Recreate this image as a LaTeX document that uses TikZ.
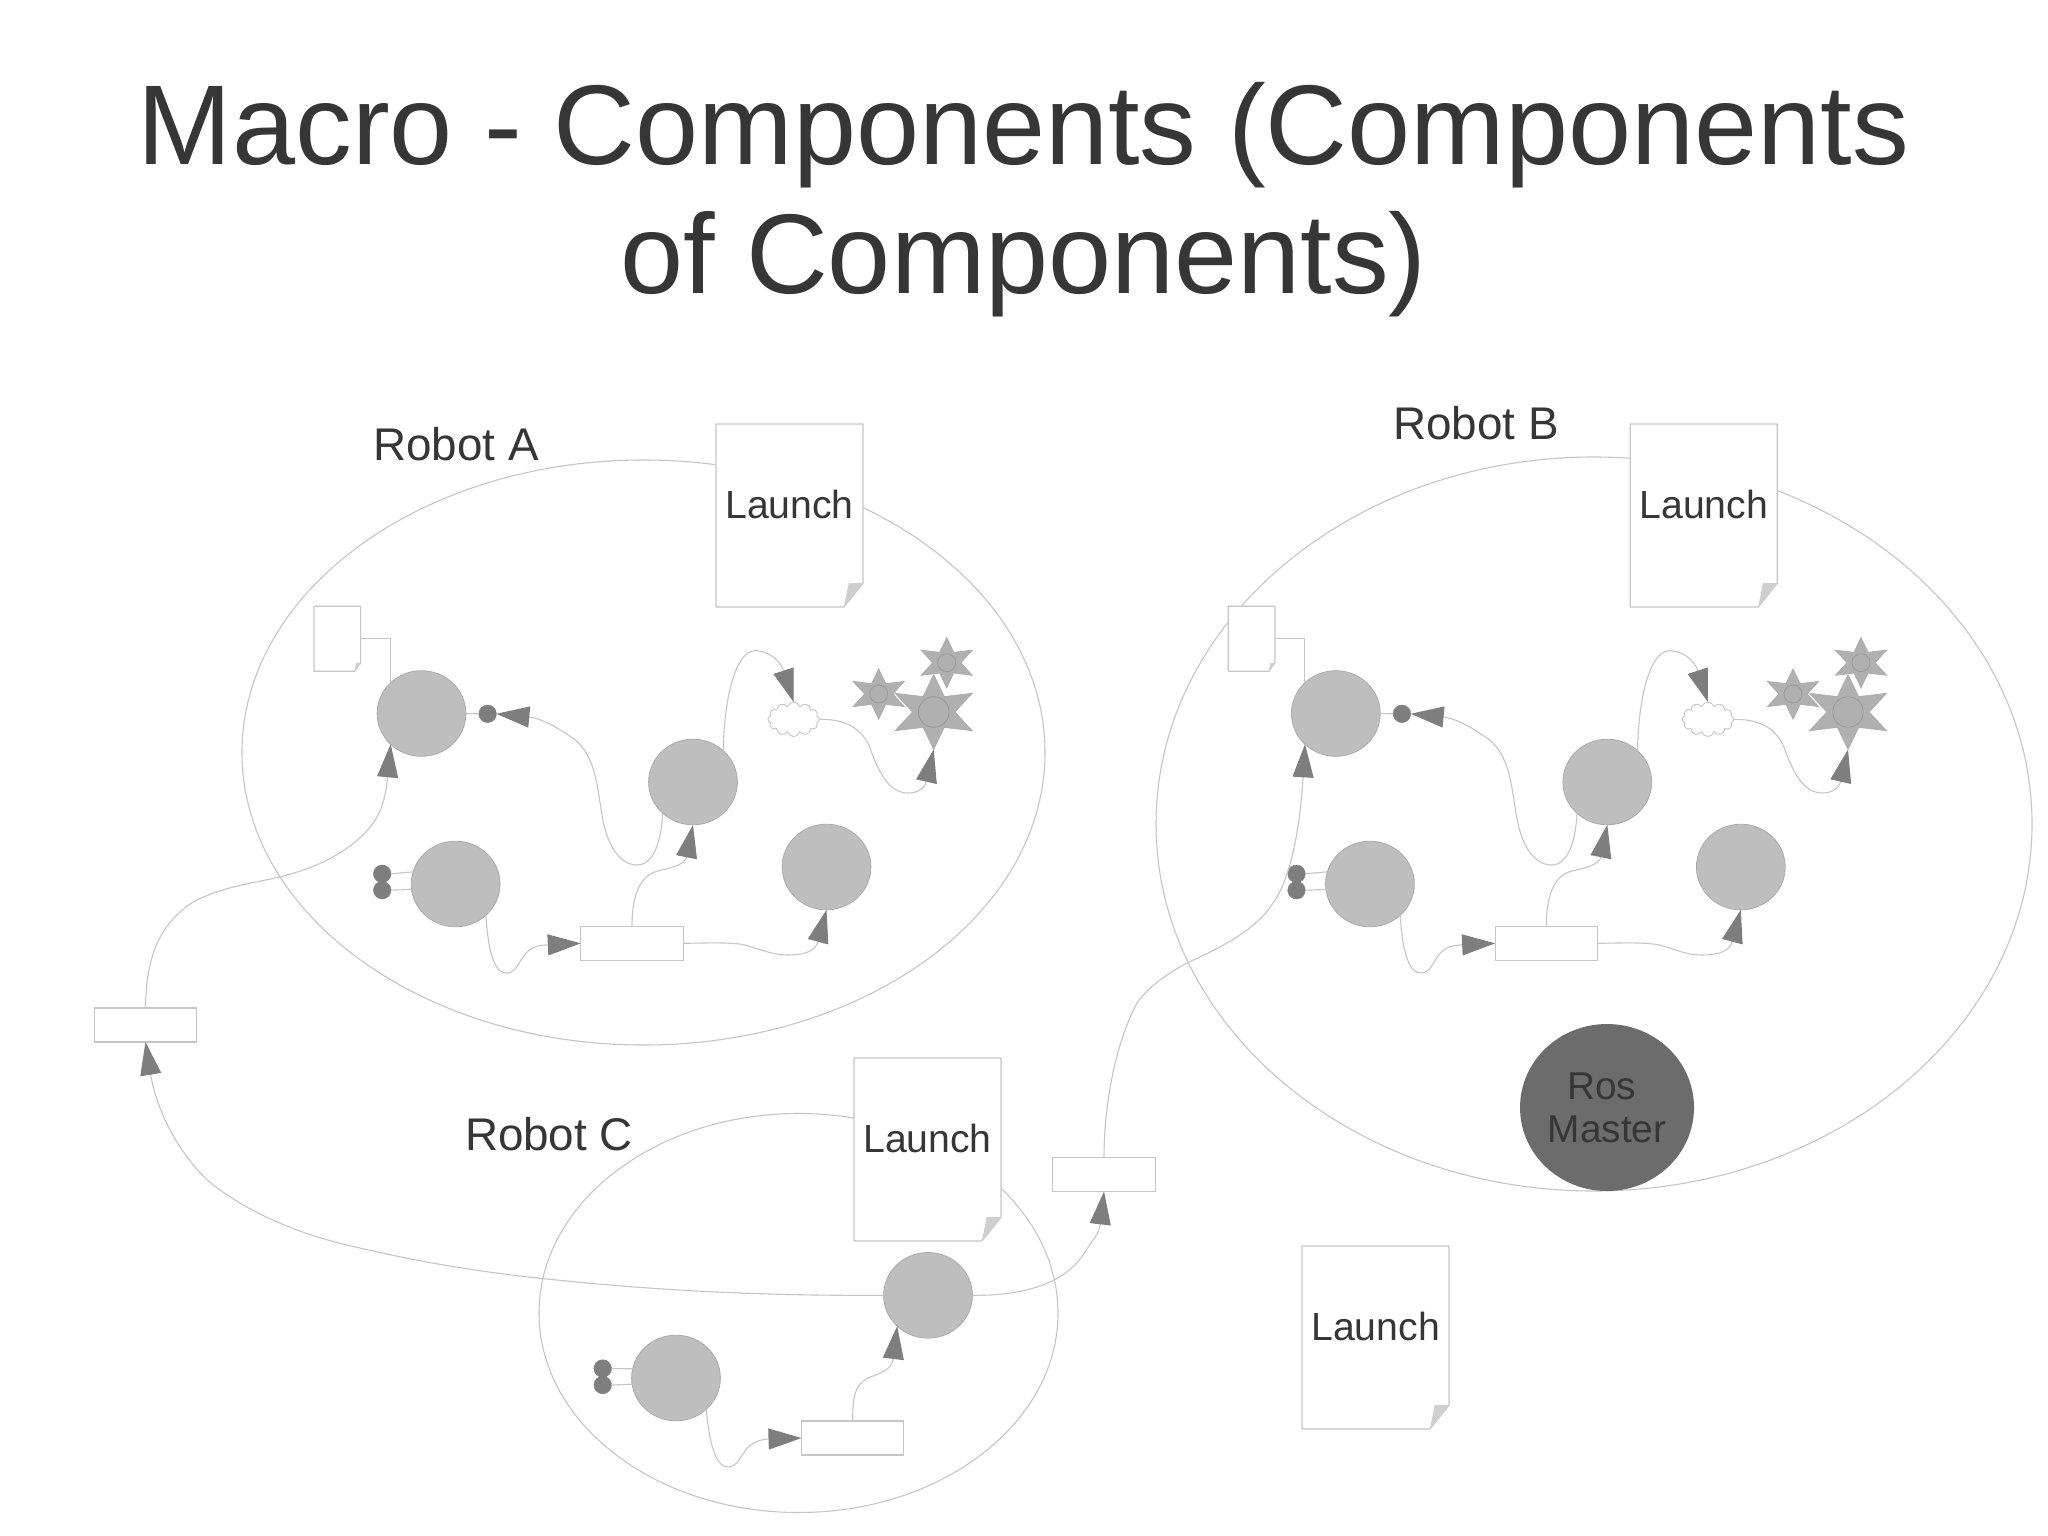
\documentclass[tikz,border=0pt]{standalone}
\usepackage{fontspec}
\setmainfont{Liberation Sans}
\usetikzlibrary{shapes.geometric,shapes.symbols,arrows.meta,calc}
\definecolor{inkcol}{HTML}{363636}
\definecolor{linecol}{HTML}{C6C6C6}
\definecolor{blobcol}{HTML}{BEBEBE}
\definecolor{blobedge}{HTML}{ABABAB}
\definecolor{tipcol}{HTML}{7E7E7E}
\definecolor{starcol}{HTML}{B0B0B0}
\definecolor{hubedge}{HTML}{999999}
\definecolor{mastercol}{HTML}{6C6C6C}
\definecolor{foldcol}{HTML}{CFCFCF}
\tikzset{
  conn/.style={draw=linecol,line width=.55pt},
  tipped/.style={conn,-{Triangle[length=16.5pt,width=10.5pt,color=tipcol,fill=tipcol]}},
  robotzone/.style={ellipse,draw=linecol,line width=.55pt,inner sep=0pt,outer sep=0pt},
  blob/.style={ellipse,fill=blobcol,draw=blobedge,line width=.4pt,inner sep=0pt,outer sep=0pt,minimum width=44.4pt,minimum height=42.8pt},
  port/.style={circle,fill=tipcol,draw=tipcol,line width=.2pt,inner sep=0pt,outer sep=0pt,minimum size=8.8pt},
  bufferbox/.style={rectangle,fill=white,draw=linecol,line width=.55pt,inner sep=0pt,outer sep=0pt,minimum width=51.2pt,minimum height=17pt},
  sheetframe/.style={rectangle,inner sep=0pt,outer sep=0pt},
  sheetline/.style={draw=linecol,fill=white,line width=.6pt,line join=round},
  starshape/.style={star,star points=6,star point ratio=2.1,fill=starcol,draw=blobedge,line width=.3pt,inner sep=0pt,outer sep=0pt},
  hub/.style={circle,fill=starcol,draw=hubedge,line width=.4pt,inner sep=0pt,outer sep=0pt},
  puff/.style={cloud,cloud puffs=12,cloud puff arc=150,fill=white,draw=linecol,line width=.45pt,inner sep=0pt,outer sep=0pt,minimum width=25.7pt,minimum height=17.2pt},
  txt/.style={text=inkcol,inner sep=0pt,outer sep=0pt},
  robotlabel/.style={txt,anchor=base,font=\fontsize{22.9}{26}\selectfont},
  launchlabel/.style={txt,anchor=base,font=\fontsize{19.6}{23}\selectfont},
}
% name, centre x, centre y, width, height
\newcommand{\docsheet}[5]{%
  \node[sheetframe,minimum width=#4*0.5pt,minimum height=#5*0.5pt] (#1) at (#2,#3) {};
  \coordinate (#1-fa) at ($(#1.south east)!.13!(#1.north east)$);
  \coordinate (#1-fb) at ($(#1.south east)!.13!(#1.south west)$);
  \draw[sheetline] (#1.north west) -- (#1.north east) -- (#1-fa) -- (#1-fb) -- (#1.south west) -- cycle;
  \fill[foldcol] (#1-fb) -- ($(#1-fb |- #1-fa)!.25!(#1-fa)$) -- (#1-fa) -- cycle;
}
\newcommand{\launchsheet}[3]{%
  \docsheet{#1}{#2}{#3}{147}{183}
  \node[launchlabel] (#1-text) at ([yshift=-1.4pt]#1.center) {Launch};
}
% the inner graph shared by Robot A and Robot B
\newcommand{\robotgraph}{%
  \launchsheet{launch}{789.5}{515.5}
  \docsheet{sdoc}{337.3}{638.8}{46.6}{65}
  \node[blob] (E1) at (421.5,713.5) {};
  \node[blob] (E2) at (693,782) {};
  \node[blob] (E3) at (455.6,884) {};
  \node[blob] (E4) at (826.5,867) {};
  \node[port] (dot) at (487.6,713.8) {};
  \node[port] (pa) at (382.2,873.8) {};
  \node[port] (pb) at (382.2,890.2) {};
  \node[bufferbox] (buf) at (632,943.3) {};
  \node[starshape,minimum size=44.6pt,yscale=.84] (bigstar) at (933.7,712) {};
  \node[hub,minimum size=15.3pt] (bighub) at (933.7,712) {};
  \node[starshape,minimum size=29.7pt,yscale=.85] (lstar) at (878.7,694) {};
  \node[hub,minimum size=9pt] (lhub) at (878.7,694) {};
  \node[starshape,minimum size=29.7pt,yscale=.85] (tstar) at (946.7,662.7) {};
  \node[hub,minimum size=9pt] (thub) at (946.7,662.7) {};
  \node[puff] (cloud) at (793.6,719.3) {};
  \draw[conn] (sdoc.east) -| (E1.136);
  \draw[conn] (E1.east) -- (dot.west);
  \draw[conn] (pa.east) -- (E3.164);
  \draw[conn] (pb.east) -- (E3.187);
  \draw[tipped] (E2.46) .. controls (724,700) and (735,650.7) .. (755.4,650.7) .. controls (768,650.7) and (780,660) .. (cloud.north);
  \draw[tipped] (cloud.east) .. controls (845,719) and (862,728) .. (870,748) .. controls (878,770) and (888,793) .. (908,793) .. controls (918,793) and (925,788) .. (bigstar.south);
  \draw[tipped] (E2.226) .. controls (661,845) and (652,865) .. (637.4,865) .. controls (617,865) and (606,840) .. (602,815) .. controls (597,785) and (595,752) .. (571,737) .. controls (557,727) and (540,718) .. (dot.east);
  \draw[tipped] (buf.north) .. controls (632,895) and (640,875) .. (658,871) .. controls (670,868) and (685,865) .. (E2.south);
  \draw[tipped] (buf.east) .. controls (710,943) and (730,942) .. (745,945) .. controls (760,949) and (772,955) .. (787,955) .. controls (800,955) and (815,953) .. (E4.south);
  \draw[tipped] (E3.314) .. controls (488,950) and (494,973) .. (506.5,973) .. controls (522,973) and (518,946) .. (545,945) -- (buf.west);
}
\begin{document}
\begin{tikzpicture}[x=0.5pt,y=-0.5pt]
  \path[use as bounding box,fill=white] (0,0) rectangle (2048,1535);
  \node[txt,align=center,font=\fontsize{56.7}{64.5}\selectfont] (title) at (1023.5,199.2) {Macro - Components (Components\\of Components)};

  \node[robotzone,minimum width=401.5pt,minimum height=292.5pt] (zoneA) at (643.5,752.5) {};
  \node[robotzone,minimum width=438pt,minimum height=367pt] (zoneB) at (1594,824) {};
  \node[robotzone,minimum width=259.5pt,minimum height=199.5pt] (zoneC) at (798.5,1313) {};

  \node[robotlabel] (labelA) at (456,460) {Robot A};
  \node[robotlabel] (labelB) at (1476,439) {Robot B};
  \node[robotlabel] (labelC) at (549,1150) {Robot C};

  \begin{scope}[name prefix=A-]
    \robotgraph
  \end{scope}
  \begin{scope}[shift={(914.3,0)},name prefix=B-]
    \robotgraph
  \end{scope}

  % Robot C
  \launchsheet{C-launch}{927.5}{1149.5}
  \node[blob] (C-top) at (928,1295.3) {};
  \node[blob] (C-left) at (676,1378) {};
  \node[port] (C-pa) at (602.7,1368.5) {};
  \node[port] (C-pb) at (602.7,1385) {};
  \node[bufferbox] (C-buf) at (852.7,1438) {};
  \draw[conn] (C-pa.east) -- (C-left.168);
  \draw[conn] (C-pb.east) -- (C-left.188);
  \draw[tipped] (C-left.314) .. controls (709,1440) and (715,1467) .. (728,1467) .. controls (743,1467) and (740,1440) .. (769,1439) -- (C-buf.west);
  \draw[tipped] (C-buf.north) .. controls (852.7,1395) and (855,1385) .. (868,1378) .. controls (880,1373) and (892,1370) .. (C-top.225);

  % free launch file
  \launchsheet{free-launch}{1375.5}{1337.5}

  % boxes between the robots
  \node[bufferbox] (leftbuf) at (145.5,1025) {};
  \node[bufferbox] (rightbuf) at (1104,1174.5) {};

  \draw[tipped] (leftbuf.north) .. controls (146,965) and (155,925) .. (195,901) .. controls (225,886) and (250,884) .. (277,877.5) .. controls (310,870) and (340,857) .. (363,835) .. controls (378,820) and (385,805) .. (A-E1.225);
  \draw[tipped] (rightbuf.north) .. controls (1104,1115) and (1112,1050) .. (1137,1003) .. controls (1147,988) and (1168,973) .. (1187,963) .. controls (1215,950) and (1255,932) .. (1273,903) .. controls (1290,880) and (1300,830) .. (B-E1.225);
  \draw[tipped] (C-top.east) .. controls (1020,1296) and (1065,1285) .. (1085,1252) .. controls (1092,1240) and (1099,1235) .. (rightbuf.south);
  \draw[tipped] (C-top.west) .. controls (760,1296) and (650,1290) .. (547,1279) .. controls (470,1271) and (410,1260) .. (347,1245) .. controls (300,1234) and (255,1215) .. (220,1190) .. controls (190,1170) and (158,1120) .. (leftbuf.south);

  % Ros Master
  \node[ellipse,fill=mastercol,inner sep=0pt,outer sep=0pt,minimum width=87pt,minimum height=83.5pt] (master) at (1607,1107.5) {};
  \node[txt,align=center,font=\fontsize{19.4}{21.5}\selectfont] (mastertext) at (1607,1107.5) {Ros\hspace*{.278em}\\Master};
\end{tikzpicture}
\end{document}
